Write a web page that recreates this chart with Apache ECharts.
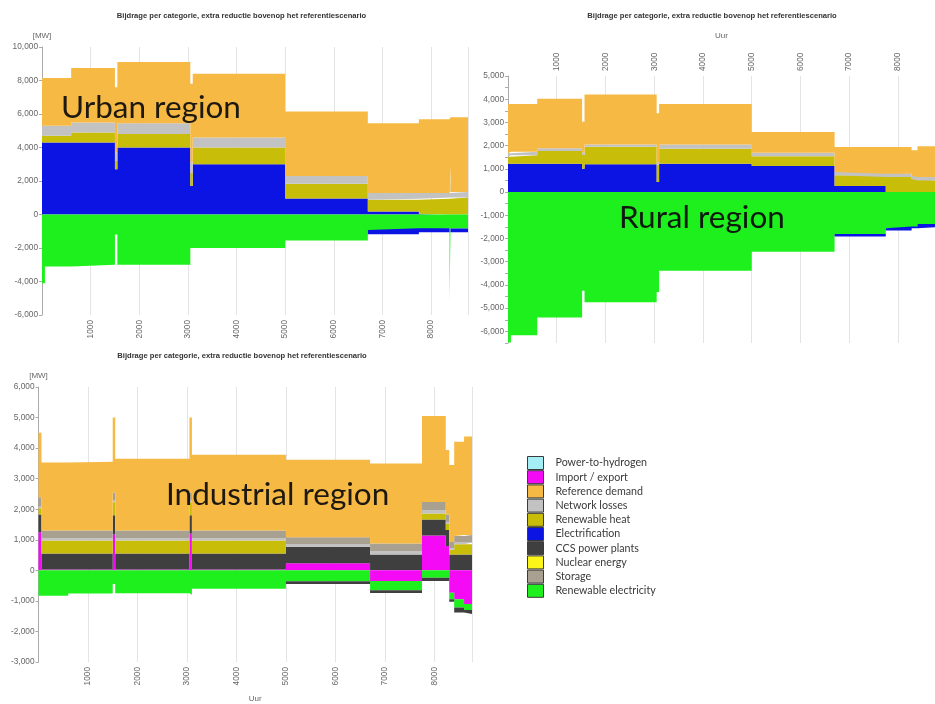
<!DOCTYPE html>
<html><head><meta charset="utf-8">
<script src="https://cdn.jsdelivr.net/npm/echarts@6/dist/echarts.min.js"></script>
<style>html,body{margin:0;padding:0;background:#fff}#c{width:935px;height:704px}</style>
</head><body><div id="c"></div>
<script>
// ---------- categories ----------
const categories = ['Power-to-hydrogen','Import / export','Reference demand','Network losses','Renewable heat','Electrification','CCS power plants','Nuclear energy','Storage','Renewable electricity'];
const chartTitle = 'Bijdrage per categorie, extra reductie bovenop het referentiescenario';
const regionLabels = ['Urban region','Rural region','Industrial region'];

// ---------- Urban region (hours = start of each step; last = end of year) ----------
const urbanHours = [0,60,600,1500,1550,3050,3100,5000,6700,7750,8380,8400,8760];
const urbanElectrification = [4300,4300,4300,2700,4000,1700,3000,960,180,40,0,0,0];
const urbanRenewableHeat = [400,400,600,500,800,800,1000,880,700,900,960,1020,1020];
const urbanNetworkLosses = [600,600,600,500,650,600,600,460,400,340,400,320,320];
const urbanStorage = [0,0,0,0,0,0,0,0,0,0,1600,0,0];
const urbanReferenceDemand = [2850,2850,3250,3900,3650,4700,3800,3850,4170,4400,2720,4460,4460];
const urbanRenewableElectricity = [-4100,-3100,-3000,-1200,-3000,-2000,-2000,-1550,-920,-820,-5200,-840,-840];
const urbanElectrificationNeg = [0,0,0,0,0,0,0,0,-260,-240,0,-220,-220];

// ---------- Rural region ----------
const ruralHours = [0,60,600,1520,1570,3050,3100,5000,6700,7750,8280,8400,8760];
const ruralElectrification = [1225,1225,1225,1000,1200,430,1225,1125,260,0,0,0,0];
const ruralRenewableHeat = [300,360,545,600,750,750,645,415,460,650,560,500,500];
const ruralNetworkLosses = [150,150,120,120,100,100,180,150,145,140,140,150,150];
const ruralReferenceDemand = [2115,2055,2130,1305,2150,2120,1740,900,1080,1155,1100,1320,1320];
const ruralRenewableElectricity = [-6480,-6170,-5400,-4250,-4750,-4300,-3390,-2565,-1800,-1560,-1480,-1370,-1370];
const ruralElectrificationNeg = [0,0,0,0,0,0,0,0,-115,-90,-80,-140,-140];

// ---------- Industrial region ----------
const industrialHours = [0,60,600,1500,1550,3050,3100,5000,6700,7750,8230,8300,8400,8600,8760];
const industrialImportPos = [1250,30,30,1170,30,1200,30,230,0,1140,800,0,0,0,0];
const industrialCCS = [580,520,520,630,520,600,520,540,520,520,520,520,520,520,520];
const industrialRenewableHeat = [200,430,430,430,430,430,430,0,0,200,200,150,330,330,330];
const industrialNetworkLosses = [60,70,70,70,70,70,70,90,110,110,60,60,60,60,60];
const industrialStorage = [300,250,250,250,250,250,250,220,250,270,250,200,210,250,250];
const industrialReferenceDemand = [2110,2230,2250,2450,2350,2450,2480,2540,2620,2810,2110,2520,3090,3220,3220];
const industrialImportNeg = [0,0,0,0,0,0,0,0,-350,0,0,-730,-950,-1100,-1100];
const industrialRenewableElectricity = [-830,-830,-760,-450,-750,-800,-600,-360,-300,-240,-240,-220,-270,-200,-200];
const industrialCCSNeg = [0,0,0,0,0,0,0,-90,-90,-110,-110,-80,-160,-130,-130];

// ---------- axis ticks ----------
const hourMax = 8760, hourStep = 1000;
const urbanY = {min:-6000, max:10000, interval:2000};
const ruralY = {min:-6500, max:5000, interval:500};
const industrialY = {min:-3000, max:6000, interval:1000};

// ---------- styling ----------
const colors = {
  'Power-to-hydrogen':'#a6eef5','Import / export':'#f50af5','Reference demand':'#f6b944',
  'Network losses':'#c2c2c2','Renewable heat':'#c8bd08','Electrification':'#0c14e4',
  'CCS power plants':'#3f3f3f','Nuclear energy':'#fbf51a','Storage':'#a8a090',
  'Renewable electricity':'#1ef01e'
};
// Each value holds from hours[i] to hours[i+1]: emit the two corners of every step.
// Value first, hour second, so the library stacks the value dimension.
// Zero contributions become gaps so that no hairline edges are painted.
function rows(h, v) {
  const out = [];
  for (let i = 0; i < h.length - 1; i++) {
    const val = v[i] === 0 ? null : v[i];
    out.push([val, h[i]]); out.push([val, h[i + 1]]);
  }
  return out;
}
function area(name, idx, stack, hours, vals) {
  return {
    name, type:'line', xAxisIndex:idx, yAxisIndex:idx, stack,
    data: rows(hours, vals), encode:{x:1, y:0},
    symbol:'none', showSymbol:false, connectNulls:false,
    lineStyle:{width:0, opacity:0}, color:colors[name], itemStyle:{color:colors[name]},
    areaStyle:{color:colors[name], opacity:1}, emphasis:{disabled:true}
  };
}
const fmt = v => (v < 0 ? '-' : '') + String(Math.abs(v)).replace(/\B(?=(\d{3})+(?!\d))/g, ',');
const lblFont = {fontSize:8.3, color:'#666', fontFamily:'Liberation Sans'};

function xAxis(idx, pos, extra) {
  return Object.assign({
    type:'value', gridIndex:idx, min:0, max:hourMax, interval:hourStep, position:pos,
    axisLine:{show:false}, axisTick:{show:false},
    splitLine:{show:true, lineStyle:{color:'#e4e4e4', width:1}},
    axisLabel:Object.assign({rotate:90, margin:5, formatter: v => (v > 0 && v % 1000 === 0) ? String(v) : ''}, lblFont)
  }, extra || {});
}
function yAxis(idx, cfg, extra) {
  return Object.assign({
    type:'value', gridIndex:idx, min:cfg.min, max:cfg.max, interval:cfg.interval,
    axisLine:{show:true, lineStyle:{color:'#aaa'}},
    axisTick:{show:true, length:3, lineStyle:{color:'#aaa'}},
    splitLine:{show:false},
    axisLabel:Object.assign({margin:4, formatter: v => (v % 1000 === 0) ? fmt(v) : ''}, lblFont)
  }, extra || {});
}
const mwName = {name:'[MW]', nameLocation:'end', nameGap:7, nameTextStyle:{fontSize:8, color:'#666', fontFamily:'Liberation Sans'}};

const series = [
  // urban
  area('Electrification',0,'uPos',urbanHours,urbanElectrification),
  area('Renewable heat',0,'uPos',urbanHours,urbanRenewableHeat),
  area('Network losses',0,'uPos',urbanHours,urbanNetworkLosses),
  area('Storage',0,'uPos',urbanHours,urbanStorage),
  area('Reference demand',0,'uPos',urbanHours,urbanReferenceDemand),
  area('Renewable electricity',0,'uNeg',urbanHours,urbanRenewableElectricity),
  area('Electrification',0,'uNeg',urbanHours,urbanElectrificationNeg),
  // rural
  area('Electrification',1,'rPos',ruralHours,ruralElectrification),
  area('Renewable heat',1,'rPos',ruralHours,ruralRenewableHeat),
  area('Network losses',1,'rPos',ruralHours,ruralNetworkLosses),
  area('Reference demand',1,'rPos',ruralHours,ruralReferenceDemand),
  area('Renewable electricity',1,'rNeg',ruralHours,ruralRenewableElectricity),
  area('Electrification',1,'rNeg',ruralHours,ruralElectrificationNeg),
  // industrial
  area('Import / export',2,'iPos',industrialHours,industrialImportPos),
  area('CCS power plants',2,'iPos',industrialHours,industrialCCS),
  area('Renewable heat',2,'iPos',industrialHours,industrialRenewableHeat),
  area('Network losses',2,'iPos',industrialHours,industrialNetworkLosses),
  area('Storage',2,'iPos',industrialHours,industrialStorage),
  area('Reference demand',2,'iPos',industrialHours,industrialReferenceDemand),
  area('Import / export',2,'iNeg',industrialHours,industrialImportNeg),
  area('Renewable electricity',2,'iNeg',industrialHours,industrialRenewableElectricity),
  area('CCS power plants',2,'iNeg',industrialHours,industrialCCSNeg),
  // categories without visible contribution
  area('Power-to-hydrogen',2,'iPos2',[],[]),
  area('Nuclear energy',2,'iPos3',[],[])
];

const titleFont = 'bold 7.6px "Liberation Sans"';
const regionFont = '31.5px Lato';
const option = {
  animation:false,
  backgroundColor:'#fff',
  grid:[
    {left:42, top:47, width:426, height:268},
    {left:508, top:76, width:433, height:267},
    {left:38.5, top:387, width:433.5, height:277}
  ],
  xAxis:[
    xAxis(0,'bottom'),
    xAxis(1,'top',{name:'Uur', nameLocation:'middle', nameGap:36, nameTextStyle:{fontSize:8, color:'#666', fontFamily:'Liberation Sans'}}),
    xAxis(2,'bottom',{name:'Uur', nameLocation:'middle', nameGap:33, nameTextStyle:{fontSize:8, color:'#666', fontFamily:'Liberation Sans'}})
  ],
  yAxis:[
    yAxis(0,urbanY,mwName),
    yAxis(1,ruralY),
    yAxis(2,industrialY,mwName)
  ],
  legend:{
    data:categories, orient:'vertical', left:527, top:456, padding:0,
    itemWidth:16, itemHeight:13, itemGap:0.2, icon:'rect', selectedMode:false,
    itemStyle:{borderColor:'#3a3a3a', borderWidth:1},
    textStyle:{fontSize:10.7, color:'#3a3a3a', fontFamily:'Lato', padding:[0,0,0,7], lineHeight:12}
  },
  graphic:[
    {type:'text', x:241.5, y:11.5, style:{text:chartTitle, font:titleFont, fill:'#333', align:'center', verticalAlign:'top'}},
    {type:'text', x:712, y:11.5, style:{text:chartTitle, font:titleFont, fill:'#333', align:'center', verticalAlign:'top'}},
    {type:'text', x:242, y:351.5, style:{text:chartTitle, font:titleFont, fill:'#333', align:'center', verticalAlign:'top'}},
    {type:'text', x:61, y:108, z:100, style:{text:regionLabels[0], font:regionFont, fill:'#1d1810', align:'left', verticalAlign:'middle'}},
    {type:'text', x:619, y:217.5, z:100, style:{text:regionLabels[1], font:regionFont, fill:'#0d1a0d', align:'left', verticalAlign:'middle'}},
    {type:'text', x:166, y:494.5, z:100, style:{text:regionLabels[2], font:regionFont, fill:'#1d1810', align:'left', verticalAlign:'middle'}}
  ],
  series
};
const chart = echarts.init(document.getElementById('c'), null, {renderer:'canvas'});
chart.setOption(option);
</script>
</body></html>
